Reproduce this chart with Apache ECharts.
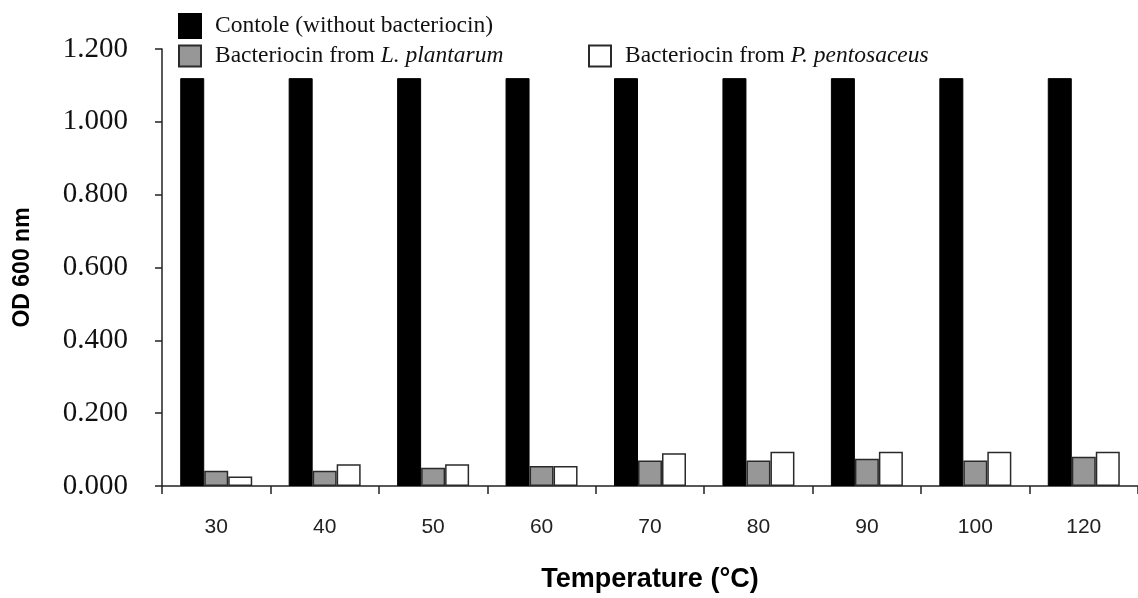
<!DOCTYPE html>
<html>
<head>
<meta charset="utf-8">
<script src="https://cdn.jsdelivr.net/npm/echarts@6/dist/echarts.min.js"></script>
<style>
  html, body { margin: 0; padding: 0; background: #fff; }
  #chart { width: 1138px; height: 598px; }
</style>
</head>
<body>
<div id="chart"></div>
<script>
// temperature categories
const temps = ['30', '40', '50', '60', '70', '80', '90', '100', '120']
// OD 600 nm values
const controlOD = [1.12, 1.12, 1.12, 1.12, 1.12, 1.12, 1.12, 1.12, 1.12]
const plantarumOD = [0.042, 0.042, 0.050, 0.055, 0.070, 0.070, 0.075, 0.070, 0.080]
const pentosaceusOD = [0.026, 0.060, 0.060, 0.055, 0.090, 0.094, 0.094, 0.094, 0.094]

const chart = echarts.init(document.getElementById('chart'))

const legendText = {
  fontFamily: 'Liberation Serif',
  fontSize: 23.5,
  color: '#111',
  padding: [0, 0, 0, 9],
  rich: {
    r: { fontFamily: 'Liberation Serif', fontSize: 23.5, color: '#111' },
    i: { fontFamily: 'Liberation Serif', fontSize: 23.5, color: '#111', fontStyle: 'italic' }
  }
}

const fmt = name => {
  if (name === 'Contole (without bacteriocin)') return '{r|' + name + '}'
  if (name.indexOf('L. plantarum') > -1) return '{r|Bacteriocin from }{i|L. plantarum}'
  return '{r|Bacteriocin from }{i|P. pentosaceus}'
}

const option = {
  animation: false,
  backgroundColor: '#fff',
  legend: [
    {
      data: ['Contole (without bacteriocin)'],
      left: 173, top: 8,
      icon: 'rect',
      itemWidth: 22, itemHeight: 24,
      formatter: fmt, textStyle: legendText
    },
    {
      data: ['Bacteriocin from L. plantarum'],
      left: 173, top: 39,
      icon: 'rect',
      itemWidth: 22, itemHeight: 21,
      formatter: fmt, textStyle: legendText
    },
    {
      data: ['Bacteriocin from P. pentosaceus'],
      left: 583, top: 39,
      icon: 'rect',
      itemWidth: 22, itemHeight: 21,
      formatter: fmt, textStyle: legendText
    }
  ],
  grid: {
    left: 162,
    right: 0,
    top: 49,
    bottom: 111
  },
  xAxis: {
    type: 'category',
    data: temps,
    name: 'Temperature (°C)',
    nameLocation: 'middle',
    nameGap: 80,
    nameTextStyle: { fontFamily: 'Liberation Sans', fontWeight: 'bold', fontSize: 27, color: '#000' },
    axisLine: { lineStyle: { color: '#222', width: 1.5 } },
    axisTick: { show: true, length: 8, lineStyle: { color: '#222', width: 1.5 } },
    axisLabel: { margin: 31, fontFamily: 'Liberation Sans', fontSize: 21, color: '#222' }
  },
  yAxis: {
    type: 'value',
    min: 0,
    max: 1.2,
    interval: 0.2,
    name: 'OD 600 nm',
    nameLocation: 'middle',
    nameGap: 128,
    nameTextStyle: { fontFamily: 'Liberation Sans', fontWeight: 'bold', fontSize: 23, color: '#000' },
    axisLine: { show: true, lineStyle: { color: '#222', width: 1.5 } },
    axisTick: { show: true, length: 7, lineStyle: { color: '#222', width: 1.5 } },
    splitLine: { show: false },
    axisLabel: {
      margin: 34,
      fontFamily: 'Liberation Serif',
      fontSize: 29,
      color: '#111',
      formatter: v => v.toFixed(3)
    }
  },
  series: [
    {
      name: 'Contole (without bacteriocin)',
      type: 'bar',
      data: controlOD,
      barWidth: 24,
      barGap: '0%',
      itemStyle: { color: '#000', borderColor: '#000', borderWidth: 1 }
    },
    {
      name: 'Bacteriocin from L. plantarum',
      type: 'bar',
      data: plantarumOD,
      barWidth: 24,
      barGap: '0%',
      itemStyle: { color: '#979797', borderColor: '#2a2a2a', borderWidth: 1.5 }
    },
    {
      name: 'Bacteriocin from P. pentosaceus',
      type: 'bar',
      data: pentosaceusOD,
      barWidth: 24,
      barGap: '0%',
      itemStyle: { color: '#fff', borderColor: '#2a2a2a', borderWidth: 1.5 }
    }
  ]
}

chart.setOption(option)
</script>
</body>
</html>
